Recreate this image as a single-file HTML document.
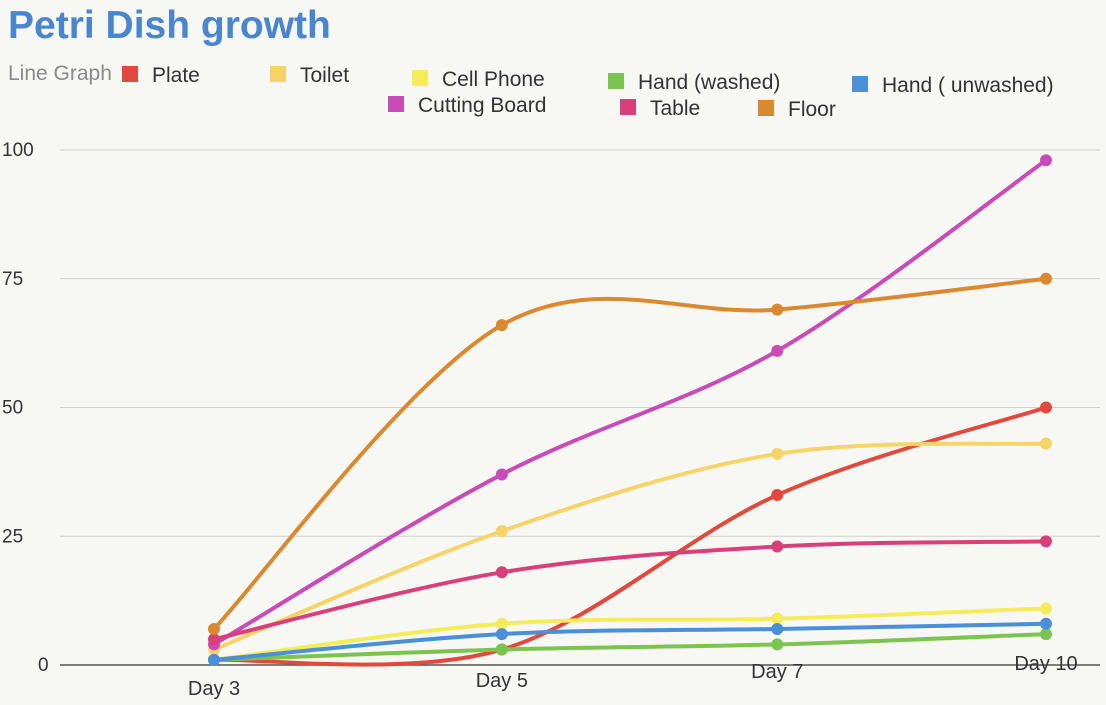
<!DOCTYPE html>
<html><head><meta charset="utf-8">
<style>
html,body{margin:0;padding:0;background:#f7f7f5;}
svg{display:block;font-family:"Liberation Sans",sans-serif;}
</style></head>
<body>
<svg id="chart" width="1106" height="705" viewBox="0 0 1106 705">
<rect x="0" y="0" width="1106" height="705" fill="#f7f7f4"/>
<text x="8" y="38" font-size="39" font-weight="bold" fill="#4a85cf">Petri Dish growth</text>
<text x="8" y="80" font-size="21" fill="#8a8a8a">Line Graph</text>
<g id="grid"></g>
<g id="legend"></g>
<g id="series"></g>
</svg>
<script>
const categories = ["Day 3","Day 5","Day 7","Day 10"];
const yTicks = [0,25,50,75,100];
const seriesNames = ["Plate","Toilet","Cell Phone","Hand (washed)","Hand ( unwashed)","Cutting Board","Table","Floor"];
const plate = [1,3,33,50];
const toilet = [3,26,41,43];
const cellPhone = [1,8,9,11];
const handWashed = [1,3,4,6];
const handUnwashed = [1,6,7,8];
const cuttingBoard = [4,37,61,98];
const table = [5,18,23,24];
const floor = [7,66,69,75];
const seriesValues = [plate,toilet,cellPhone,handWashed,handUnwashed,cuttingBoard,table,floor];
const colors = ["#e04a3c","#f7d469","#f6ec5a","#7cc450","#4a8fd8","#c94bb8","#d9407a","#d98a30"];

const NS="http://www.w3.org/2000/svg";
const xPos=[214,502,778,1046];
function x(i){return xPos[0]+(xPos[3]-xPos[0])*(i===0?0:i===1?0.346:i===2?0.677:1);}
function y(v){return 665-v*5.15;}
function mk(tag,attrs,parent){const e=document.createElementNS(NS,tag);for(const k in attrs)e.setAttribute(k,attrs[k]);parent.appendChild(e);return e;}

const grid=document.getElementById('grid');
yTicks.forEach(t=>{
  const l=mk('line',{x1:60,x2:1100,y1:y(t),y2:y(t),stroke:t===0?'#555':'#cfcfcf','stroke-width':t===0?1.5:1},grid);
  
  
  const tx=mk('text',{x:t===0?38:2,y:y(t)+6,'font-size':19,fill:'#333'},grid);
  tx.textContent=t;
  
  
});
categories.forEach((c,i)=>{
  const tx=mk('text',{x:x(i),y:i===3?670:(i===2?678:(i===1?687:695)),'font-size':20,fill:'#333','text-anchor':'middle'},grid);
  tx.textContent=c;
  
  
});

const legendPos=[[122,82],[270,82],[412,86],[608,89],[852,92],[388,112],[620,115],[758,116]];
const lg=document.getElementById('legend');
seriesNames.forEach((n,i)=>{
  const g=mk('g',{},lg);
  
  
  const [lx,ly]=legendPos[i];
  mk('rect',{x:lx,y:ly-16,width:16,height:16,fill:colors[i]},g);
  const t=mk('text',{x:lx+30,y:ly,'font-size':21,fill:'#333'},g);
  t.textContent=n;
});

const sg=document.getElementById('series');
function pathFor(vals){
  const p=vals.map((v,i)=>[x(i),y(v)]);
  let d='M'+p[0][0]+','+p[0][1];
  for(let i=0;i<p.length-1;i++){
    const p0=p[Math.max(0,i-1)],p1=p[i],p2=p[i+1],p3=p[Math.min(p.length-1,i+2)];
    const t=1/3;
    const c1=[p1[0]+(p2[0]-p0[0])*t/2,p1[1]+(p2[1]-p0[1])*t/2];
    const c2=[p2[0]-(p3[0]-p1[0])*t/2,p2[1]-(p3[1]-p1[1])*t/2];
    d+=' C'+c1+' '+c2+' '+p2;
  }
  return d;
}
seriesValues.forEach((vals,i)=>{
  const g=mk('g',{},sg);
  
  
  mk('path',{d:pathFor(vals),fill:'none',stroke:colors[i],'stroke-width':4,'stroke-linecap':'round'},g);
  vals.forEach((v,j)=>{
    const c=mk('circle',{cx:x(j),cy:y(v),r:6,fill:colors[i]},g);
    
    
  });
});
</script>
</body></html>
